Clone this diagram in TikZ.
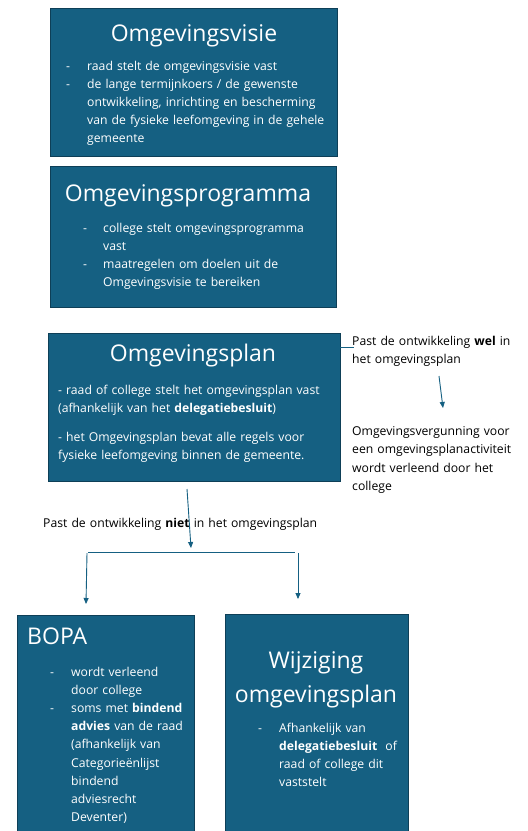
\documentclass[tikz,border=0pt]{standalone}
\usepackage{fontspec}
\setmainfont{Open Sans}
\usetikzlibrary{arrows.meta}
\definecolor{boxblue}{HTML}{156082}
\definecolor{boxedge}{HTML}{0E3F57}
\newcommand{\dl}[2]{\noindent\leftskip=#1\relax\llap{\makebox[#1][l]{-}}#2\par}
\begin{document}
\begin{tikzpicture}[x=1pt,y=-1pt,
  box/.style={draw=boxedge, fill=boxblue, line width=0.8pt, anchor=north west, inner sep=0pt},
  title/.style={text=white, font=\fontsize{23}{34}\selectfont, inner sep=0pt, anchor=base},
  body/.style={text=white, font=\fontsize{12.2}{18}\selectfont, inner sep=0pt, anchor=base west, align=left, text width=300pt},
  note/.style={text=black, font=\fontsize{12.2}{18.5}\selectfont, inner sep=0pt, anchor=base west, align=left, text width=200pt},
  conn/.style={draw=boxblue, line width=0.9pt},
  arr/.style={conn, -{Triangle[width=5pt,length=6pt]}}]
\useasboundingbox[fill=white] (0,0) rectangle (528,831);
% boxes
\node[box, minimum width=287pt, minimum height=148pt] (visie) at (50,8) {};
\node[box, minimum width=286pt, minimum height=141pt] (prog) at (50,166) {};
\node[box, minimum width=292pt, minimum height=148pt] (plan) at (48,333) {};
\node[box, minimum width=177pt, minimum height=230pt] (bopa) at (17,615) {};
\node[box, minimum width=183pt, minimum height=230pt] (wijz) at (225,614) {};
% titles
\node[title] (visieT) at (194,41) {Omgevingsvisie};
\node[title] (progT) at (188,201) {Omgevingsprogramma};
\node[title] (planT) at (193,361) {Omgevingsplan};
\node[title, anchor=base west] (bopaT) at (27,644) {BOPA};
\node[title, align=center, text width=183pt] (wijzT) at (316,668) {Wijziging\\omgevingsplan};
% bodies
\node[body] (visieB) at (66,70) {%
\dl{21pt}{raad stelt de omgevingsvisie vast}%
\dl{21pt}{de lange termijnkoers / de gewenste\\ontwikkeling, inrichting en bescherming\\van de fysieke leefomgeving in de gehele\\gemeente}};
\node[body] (progB) at (83,232) {%
\dl{20pt}{college stelt omgevingsprogramma\\vast}%
\dl{20pt}{maatregelen om doelen uit de\\Omgevingsvisie te bereiken}};
\node[body] (planB) at (58,394) {%
- raad of college stelt het omgevingsplan vast\\(afhankelijk van het \textbf{delegatiebesluit})\\[11pt]%
- het Omgevingsplan bevat alle regels voor\\fysieke leefomgeving  binnen de gemeente.};
\node[body, font=\fontsize{12.2}{18.2}\selectfont] (bopaB) at (50,676) {%
\dl{21pt}{wordt verleend\\door college}%
\dl{21pt}{soms met \textbf{bindend}\\\textbf{advies} van de raad\\(afhankelijk van\\Categorieënlijst\\bindend\\adviesrecht\\Deventer)}};
\node[body, font=\fontsize{12.2}{18.3}\selectfont] (wijzB) at (258,732) {%
\dl{21pt}{Afhankelijk van\\\textbf{delegatiebesluit}~ of\\raad of college dit\\vaststelt}};
% notes
\node[note] (wel) at (352,345) {Past de ontwikkeling \textbf{wel} in\\het omgevingsplan};
\node[note] (verg) at (352,435) {Omgevingsvergunning voor\\een omgevingsplanactiviteit\\wordt verleend door het\\college};
\node[note, text width=320pt] (niet) at (43,527) {Past de ontwikkeling \textbf{niet} in het omgevingsplan};
% connector coordinates
\coordinate (welA) at (340,347);
\coordinate (welB) at (354,347);
\coordinate (welS) at (439,376);
\coordinate (welE) at (443,408);
\coordinate (planS) at (187,489);
\coordinate (planE) at (191,548);
\coordinate (brL) at (88,552);
\coordinate (brR) at (295,552);
\coordinate (bopaS) at (87,553);
\coordinate (bopaE) at (86,604);
\coordinate (wijzS) at (298,553);
\coordinate (wijzE) at (298,599);
\draw[conn] (welA) -- (welB);
\draw[arr] (welS) -- (welE);
\draw[arr] (planS) -- (planE);
\draw[conn] (brL) -- (brR);
\draw[arr] (bopaS) -- (bopaE);
\draw[arr] (wijzS) -- (wijzE);
\end{tikzpicture}
\end{document}
